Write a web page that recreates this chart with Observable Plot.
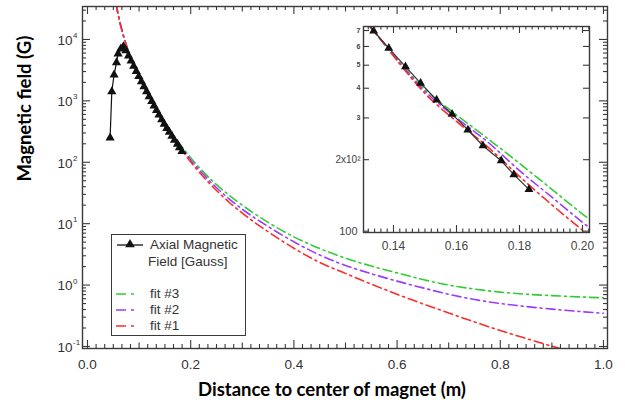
<!DOCTYPE html>
<html><head><meta charset="utf-8">
<script src="https://cdn.jsdelivr.net/npm/d3@7"></script>
<script src="https://cdn.jsdelivr.net/npm/@observablehq/plot@0.6"></script>
<style>
body{margin:0;background:#fff;}
#wrap{position:relative;width:625px;height:404px;overflow:hidden;}
#wrap > svg{position:absolute;left:0;top:0;}
.legend{position:absolute;left:111px;top:234px;width:133px;height:100px;border:1.6px solid #3a3a3a;background:#fff;font-family:"Liberation Sans",Arial,sans-serif;font-size:13.5px;color:#333;}
.legend .t{position:absolute;white-space:nowrap;line-height:14px;}
.legend svg{position:absolute;left:0;top:0;}
</style></head><body><div id="wrap"></div>
<script>
// ---- measured axial field (triangles) ----
const measX = [0.0438,0.0471,0.0515,0.0562,0.0593,0.0645,0.0697,0.0745,0.0795,0.0845,0.0895,0.0945,0.0995,0.1045,0.1095,0.1145,0.1195,0.1245,0.1290,0.1337,0.1385,0.1438,0.1486,0.1537,0.1586,0.1636,0.1684,0.1742,0.1782,0.1830];
const measB = [250,1420,2650,4200,5850,7050,7700,6600,5430,4470,3670,3020,2495,2060,1706,1413,1175,977,828,697,590,493,420,357,311,267,229,198,173,150];

// ---- fits ----
const fitX = [0.0555,0.06,0.065,0.07,0.075,0.08,0.085,0.09,0.095,0.10,0.11,0.12,0.13,0.135,0.14,0.15,0.16,0.17,0.18,0.19,0.20,0.225,0.25,0.275,0.30,0.35,0.40,0.45,0.50,0.55,0.60,0.65,0.70,0.75,0.80,0.85,0.90,0.95,1.0];
const fit3 = [38000,24000,16000,11200,8200,6100,4700,3700,2950,2400,1650,1160,800,665,552,395,309,245,193,151,118,69.2,43.2,28.8,20.0,10.5,6.1,3.94,2.75,2.04,1.58,1.23,1.0,0.861,0.767,0.711,0.673,0.643,0.619];
const fit2 = [38000,24000,16000,11200,8200,6100,4700,3700,2950,2400,1650,1160,800,665,550,388,300,237,180,140,109,63.1,38.5,25.1,17.2,9.0,5.07,3.09,2.09,1.53,1.16,0.90,0.708,0.582,0.501,0.447,0.406,0.373,0.347];
const fit1 = [38000,24000,16000,11200,8200,6100,4700,3700,2950,2400,1650,1160,800,665,547,380,290,226,170,130,101,57.5,34.7,22.1,14.8,7.4,3.98,2.34,1.55,1.035,0.708,0.495,0.351,0.251,0.182,0.135,0.101,0.0767,0.0589];

const fitNames = ["fit #3","fit #2","fit #1"];
const fitColors = ["#33cc33","#9a3cff","#ff2b2b"];
const measName = "Axial Magnetic Field [Gauss]";

// ---- ticks ----
const xTicks = [0,0.2,0.4,0.6,0.8,1.0];
const yTicks = [0.1,1,10,100,1000,10000];
const yExp = ["-1","0","1","2","3","4"];
const insetXTicks = [0.14,0.16,0.18,0.20];
const insetYTicks = [100,200,300,400,500,600,700];
const insetYLabels = ["100","2x10\u00b2","3","4","5","6","7"];
const xTitle = "Distance to center of magnet (m)";
const yTitle = "Magnetic field (G)";

// ---- build tables ----
const meas = measX.map((x,i)=>({x, v: measB[i]}));
const fitSeries = [fit3, fit2, fit1];
const fits = fitSeries.flatMap((arr,k)=>fitX.map((x,i)=>({x, v: arr[i], s: fitNames[k]})));

const xMinor = d3.range(0,61).map(i=>i/60).filter(d=>Math.abs(d*10-Math.round(d*10))>1e-6);
const xMid = [0.1,0.3,0.5,0.7,0.9];
const yMinor = [];
for (let e=-2;e<=4;e++) for (let m=2;m<=9;m++) { const v=m*Math.pow(10,e); if (v>0.0927 && v<34400) yMinor.push(v); }
const inXMinor = d3.range(131,203).map(i=>i/1000).filter(d=>Math.round(d*1000)%2===0 && Math.round(d*1000)%20!==0);

const ink = "#3a3a3a";
const tickFont = "Liberation Sans, Arial, sans-serif";
const titleFont = "Lato, sans-serif";
const color = {domain: fitNames, range: fitColors};
const dash = "9,4,2,4";

// inward tick marks on all four sides (fw, fh = frame width / height in px)
function ticksX(tk, size, fh) {
  return [
    Plot.tickX(tk, {x: d => d, insetTop: fh - size, stroke: ink, strokeWidth: 1.1}),
    Plot.tickX(tk, {x: d => d, insetBottom: fh - size, stroke: ink, strokeWidth: 1.1})
  ];
}
function ticksY(tk, size, fw) {
  return [
    Plot.tickY(tk, {y: d => d, insetRight: fw - size, stroke: ink, strokeWidth: 1.1}),
    Plot.tickY(tk, {y: d => d, insetLeft: fw - size, stroke: ink, strokeWidth: 1.1})
  ];
}

const M = {l: 82, r: 18, t: 6, b: 56};
const mfw = 625 - M.l - M.r, mfh = 404 - M.t - M.b;
const mainScales = {
  width: 625, height: 404,
  marginLeft: M.l, marginRight: M.r, marginTop: M.t, marginBottom: M.b,
  x: {domain: [-0.0097, 1.0078], axis: null},
  y: {type: "log", domain: [0.0927, 34400], axis: null}
};
const main = Plot.plot({
  ...mainScales,
  style: {fontFamily: tickFont, fontSize: "13px", color: "#333", background: "transparent"},
  color,
  marks: [
    Plot.line(fits, {x: "x", y: "v", z: "s", stroke: "s", strokeDasharray: dash, strokeWidth: 1.6, curve: "monotone-x", clip: true}),
    Plot.line(meas, {x: "x", y: "v", stroke: "#111", strokeWidth: 1.2}),
    Plot.dot(meas, {x: "x", y: "v", symbol: "triangle", r: 3.4, fill: "#111"}),
    Plot.frame({stroke: ink, strokeWidth: 1.4}),
    Plot.text(xTicks, {x: d=>d, frameAnchor: "bottom", dy: 16, text: d3.format(".1f"), lineAnchor: "middle", fontSize: 13.5, fill: "#333"}),
    Plot.text(yTicks, {y: d=>d, frameAnchor: "left", dx: -10, dy: 1, text: () => "10", textAnchor: "end", lineAnchor: "middle", fontSize: 13.5, fill: "#333"}),
    Plot.text(yTicks, {y: d=>d, frameAnchor: "left", dx: -9.5, dy: -4, text: (d,i) => yExp[i], textAnchor: "start", lineAnchor: "middle", fontSize: 8, fill: "#333"}),
    Plot.text([xTitle], {frameAnchor: "bottom", dx: -13, dy: 42, text: d=>d, fontFamily: titleFont, fontWeight: "bold", fontSize: 18.5, fill: "#000", lineAnchor: "middle"}),
    Plot.text([yTitle], {frameAnchor: "left", dx: -57, dy: 4, rotate: -90, text: d=>d, fontFamily: titleFont, fontWeight: "bold", fontSize: 18.5, fill: "#000", lineAnchor: "middle"})
  ]
});
const mainTicks = Plot.plot({
  ...mainScales,
  style: {background: "transparent"},
  marks: [
    ...ticksX(xTicks, 8, mfh), ...ticksX(xMid, 5.5, mfh), ...ticksX(xMinor, 4, mfh),
    ...ticksY(yTicks, 8, mfw), ...ticksY(yMinor, 4, mfw)
  ]
});

const I = {l: 363, r: 36, t: 26, b: 172};
const ifw = 625 - I.l - I.r, ifh = 404 - I.t - I.b;
const insetScales = {
  width: 625, height: 404,
  marginLeft: I.l, marginRight: I.r, marginTop: I.t, marginBottom: I.b,
  x: {domain: [0.13048, 0.20222], axis: null},
  y: {type: "log", domain: [98.7, 728], axis: null}
};
const inset = Plot.plot({
  ...insetScales,
  style: {fontFamily: tickFont, fontSize: "12px", color: "#333", background: "transparent"},
  color,
  marks: [
    Plot.frame({fill: "#fff", stroke: "none"}),
    Plot.line(fits, {x: "x", y: "v", z: "s", stroke: "s", strokeDasharray: dash, strokeWidth: 1.6, curve: "monotone-x", clip: true}),
    Plot.line(meas, {x: "x", y: "v", stroke: "#333", strokeWidth: 1.2, clip: true}),
    Plot.dot(meas, {x: "x", y: "v", symbol: "triangle", r: 3.3, fill: "#111", clip: true}),
    Plot.frame({stroke: ink, strokeWidth: 1.4}),
    Plot.text(insetXTicks, {x: d=>d, frameAnchor: "bottom", dy: 14, text: d3.format(".2f"), lineAnchor: "middle", fontSize: 12, fill: "#444"}),
    Plot.text(insetYTicks.slice(0,1), {y: d=>d, frameAnchor: "left", dx: -6, text: (d,i)=>insetYLabels[i], textAnchor: "end", lineAnchor: "middle", fontSize: 11, fill: "#444"}),
    Plot.text(insetYTicks.slice(1,2), {y: d=>d, frameAnchor: "left", dx: -3, text: (d,i)=>insetYLabels[i+1], textAnchor: "end", lineAnchor: "middle", fontSize: 10, fill: "#444"}),
    Plot.text(insetYTicks.slice(2), {y: d=>d, frameAnchor: "left", dx: -3, text: (d,i)=>insetYLabels[i+2], textAnchor: "end", lineAnchor: "middle", fontSize: 7, fontWeight: "bold", fill: "#444"})
  ]
});
const insetTicks = Plot.plot({
  ...insetScales,
  style: {background: "transparent"},
  marks: [
    ...ticksX(insetXTicks, 7, ifh), ...ticksX(inXMinor, 3.5, ifh),
    ...ticksY(insetYTicks, 6, ifw)
  ]
});

const wrap = document.getElementById("wrap");
wrap.appendChild(main);
wrap.appendChild(inset);
wrap.appendChild(mainTicks);
wrap.appendChild(insetTicks);

// ---- legend ----
const lg = document.createElement("div");
lg.className = "legend";
const ns = "http://www.w3.org/2000/svg";
const lsvg = document.createElementNS(ns, "svg");
lsvg.setAttribute("width", 133); lsvg.setAttribute("height", 100);
let html = `<line x1="5" x2="31" y1="10" y2="10" stroke="#111" stroke-width="1.3"/>` +
  `<path d="${d3.symbol(d3.symbolTriangle, 40)()}" transform="translate(18,9.5)" fill="#111"/>`;
fitNames.forEach((n,i)=>{
  const y = 59 + i*16;
  html += `<line x1="4" x2="24" y1="${y}" y2="${y}" stroke="${fitColors[i]}" stroke-width="1.6" stroke-dasharray="10,5,3,6"/>`;
});
lsvg.innerHTML = html;
lg.appendChild(lsvg);
const words = measName.split(" ");
const t1 = document.createElement("div"); t1.className="t"; t1.style.left="38px"; t1.style.top="3px"; t1.textContent = words.slice(0,2).join(" "); lg.appendChild(t1);
const t2 = document.createElement("div"); t2.className="t"; t2.style.left="36px"; t2.style.top="20px"; t2.textContent = words.slice(2).join(" "); lg.appendChild(t2);
fitNames.forEach((n,i)=>{
  const t = document.createElement("div"); t.className="t"; t.style.left="38px"; t.style.top=(52+i*16)+"px"; t.textContent=n; lg.appendChild(t);
});
wrap.appendChild(lg);
</script></body></html>
